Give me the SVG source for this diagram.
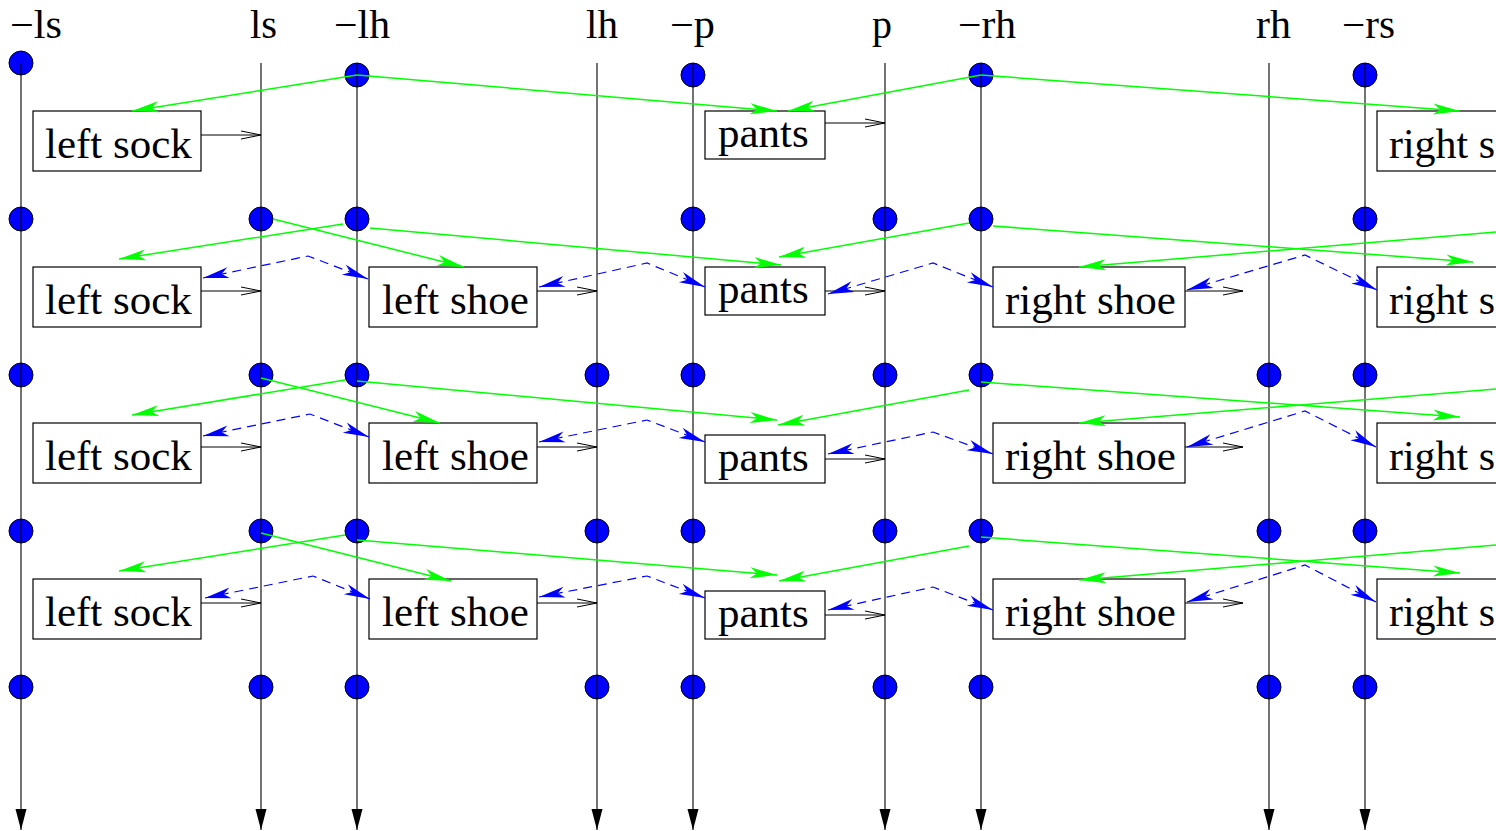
<svg xmlns="http://www.w3.org/2000/svg" width="1496" height="831" viewBox="0 0 1496 831">
  <style>
    .lbl { font-family: "Liberation Serif", "Times New Roman", serif; font-size: 40px; fill: #000; }
    .txt { font-family: "Liberation Serif", "Times New Roman", serif; font-size: 43px; fill: #000; }
    .box { fill: #fff; stroke: #000; stroke-width: 1.2; }
    .axis { stroke: #000; stroke-width: 1.1; fill: none; marker-end: url(#axisHead); }
    .dot { fill: #0000ff; stroke: #000; stroke-width: 1; }
    .g { stroke: #00ff00; stroke-width: 1.5; fill: none; marker-end: url(#greenHead); }
    .b { stroke: #0000ff; stroke-width: 1.2; fill: none; stroke-dasharray: 9 6; marker-start: url(#blueHead); marker-end: url(#blueHead); }
    .k { stroke: #000; stroke-width: 1; fill: none; marker-end: url(#openHead); }
  </style>
  <defs>
    <marker id="greenHead" viewBox="-29 -7 31 14" refX="0" refY="0" markerWidth="31" markerHeight="14" orient="auto" markerUnits="userSpaceOnUse">
      <path d="M0,0 L-27,-5.5 L-20,0 L-27,5.5 Z" fill="#00ff00"/>
    </marker>
    <marker id="blueHead" viewBox="-29 -7 31 14" refX="0" refY="0" markerWidth="31" markerHeight="14" orient="auto-start-reverse" markerUnits="userSpaceOnUse">
      <path d="M0,0 L-26,-5.5 L-19,0 L-26,5.5 Z" fill="#0000ff"/>
    </marker>
    <marker id="openHead" viewBox="-22 -6 24 12" refX="0" refY="0" markerWidth="24" markerHeight="12" orient="auto" markerUnits="userSpaceOnUse">
      <path d="M-20,-4 L0,0 L-20,4" fill="none" stroke="#000" stroke-width="1"/>
    </marker>
    <marker id="axisHead" viewBox="-23 -7 24 14" refX="0" refY="0" markerWidth="24" markerHeight="14" orient="auto" markerUnits="userSpaceOnUse">
      <path d="M0,0 L-21,-5.5 L-21,5.5 Z" fill="#000"/>
    </marker>
  </defs>

  <rect width="1496" height="831" fill="#fff"/>

  <!-- column headings -->
  <g id="labels">
    <text class="lbl" x="10" y="38" textLength="52" lengthAdjust="spacingAndGlyphs">−ls</text>
    <text class="lbl" x="250" y="38" textLength="27" lengthAdjust="spacingAndGlyphs">ls</text>
    <text class="lbl" x="334" y="38" textLength="56" lengthAdjust="spacingAndGlyphs">−lh</text>
    <text class="lbl" x="586" y="38" textLength="32" lengthAdjust="spacingAndGlyphs">lh</text>
    <text class="lbl" x="670" y="38" textLength="45" lengthAdjust="spacingAndGlyphs">−p</text>
    <text class="lbl" x="872" y="38" textLength="20" lengthAdjust="spacingAndGlyphs">p</text>
    <text class="lbl" x="958" y="38" textLength="58" lengthAdjust="spacingAndGlyphs">−rh</text>
    <text class="lbl" x="1256" y="38" textLength="35" lengthAdjust="spacingAndGlyphs">rh</text>
    <text class="lbl" x="1342" y="38" textLength="53" lengthAdjust="spacingAndGlyphs">−rs</text>
  </g>

  <!-- state dots -->
  <g id="dots">
    <circle class="dot" cx="21" cy="63" r="12"/>
    <circle class="dot" cx="357" cy="75" r="12"/>
    <circle class="dot" cx="693" cy="75" r="12"/>
    <circle class="dot" cx="981" cy="75" r="12"/>
    <circle class="dot" cx="1365" cy="75" r="12"/>

    <circle class="dot" cx="21" cy="219" r="12"/>
    <circle class="dot" cx="261" cy="219" r="12"/>
    <circle class="dot" cx="357" cy="219" r="12"/>
    <circle class="dot" cx="693" cy="219" r="12"/>
    <circle class="dot" cx="885" cy="219" r="12"/>
    <circle class="dot" cx="981" cy="219" r="12"/>
    <circle class="dot" cx="1365" cy="219" r="12"/>

    <circle class="dot" cx="21" cy="375" r="12"/>
    <circle class="dot" cx="261" cy="375" r="12"/>
    <circle class="dot" cx="357" cy="375" r="12"/>
    <circle class="dot" cx="597" cy="375" r="12"/>
    <circle class="dot" cx="693" cy="375" r="12"/>
    <circle class="dot" cx="885" cy="375" r="12"/>
    <circle class="dot" cx="981" cy="375" r="12"/>
    <circle class="dot" cx="1269" cy="375" r="12"/>
    <circle class="dot" cx="1365" cy="375" r="12"/>

    <circle class="dot" cx="21" cy="531" r="12"/>
    <circle class="dot" cx="261" cy="531" r="12"/>
    <circle class="dot" cx="357" cy="531" r="12"/>
    <circle class="dot" cx="597" cy="531" r="12"/>
    <circle class="dot" cx="693" cy="531" r="12"/>
    <circle class="dot" cx="885" cy="531" r="12"/>
    <circle class="dot" cx="981" cy="531" r="12"/>
    <circle class="dot" cx="1269" cy="531" r="12"/>
    <circle class="dot" cx="1365" cy="531" r="12"/>

    <circle class="dot" cx="21" cy="687" r="12"/>
    <circle class="dot" cx="261" cy="687" r="12"/>
    <circle class="dot" cx="357" cy="687" r="12"/>
    <circle class="dot" cx="597" cy="687" r="12"/>
    <circle class="dot" cx="693" cy="687" r="12"/>
    <circle class="dot" cx="885" cy="687" r="12"/>
    <circle class="dot" cx="981" cy="687" r="12"/>
    <circle class="dot" cx="1269" cy="687" r="12"/>
    <circle class="dot" cx="1365" cy="687" r="12"/>
  </g>

  <!-- time lines, one per literal -->
  <g id="timelines">
    <path class="axis" d="M21,63 V830"/>
    <path class="axis" d="M261,63 V830"/>
    <path class="axis" d="M357,63 V830"/>
    <path class="axis" d="M597,63 V830"/>
    <path class="axis" d="M693,63 V830"/>
    <path class="axis" d="M885,63 V830"/>
    <path class="axis" d="M981,63 V830"/>
    <path class="axis" d="M1269,63 V830"/>
    <path class="axis" d="M1365,63 V830"/>
  </g>

  <!-- step 1 -->
  <g id="s1-left-sock"><rect class="box" x="33" y="111" width="168" height="60"/><text class="txt" x="45" y="158">left sock</text></g>
  <g id="s1-pants"><rect class="box" x="705" y="111" width="120" height="48"/><text class="txt" x="718" y="147">pants</text></g>
  <g id="s1-right-sock"><rect class="box" x="1377" y="111" width="200" height="60"/><text class="txt" x="1389" y="158" textLength="106" lengthAdjust="spacingAndGlyphs">right s</text></g>

  <!-- step 2 -->
  <g id="s2-left-sock"><rect class="box" x="33" y="267" width="168" height="60"/><text class="txt" x="45" y="314">left sock</text></g>
  <g id="s2-left-shoe"><rect class="box" x="369" y="267" width="168" height="60"/><text class="txt" x="382" y="314">left shoe</text></g>
  <g id="s2-pants"><rect class="box" x="705" y="267" width="120" height="48"/><text class="txt" x="718" y="303">pants</text></g>
  <g id="s2-right-shoe"><rect class="box" x="993" y="267" width="192" height="60"/><text class="txt" x="1005" y="314">right shoe</text></g>
  <g id="s2-right-sock"><rect class="box" x="1377" y="267" width="200" height="60"/><text class="txt" x="1389" y="314" textLength="106" lengthAdjust="spacingAndGlyphs">right s</text></g>

  <!-- step 3 -->
  <g id="s3-left-sock"><rect class="box" x="33" y="423" width="168" height="60"/><text class="txt" x="45" y="470">left sock</text></g>
  <g id="s3-left-shoe"><rect class="box" x="369" y="423" width="168" height="60"/><text class="txt" x="382" y="470">left shoe</text></g>
  <g id="s3-pants"><rect class="box" x="705" y="435" width="120" height="48"/><text class="txt" x="718" y="471">pants</text></g>
  <g id="s3-right-shoe"><rect class="box" x="993" y="423" width="192" height="60"/><text class="txt" x="1005" y="470">right shoe</text></g>
  <g id="s3-right-sock"><rect class="box" x="1377" y="423" width="200" height="60"/><text class="txt" x="1389" y="470" textLength="106" lengthAdjust="spacingAndGlyphs">right s</text></g>

  <!-- step 4 -->
  <g id="s4-left-sock"><rect class="box" x="33" y="579" width="168" height="60"/><text class="txt" x="45" y="626">left sock</text></g>
  <g id="s4-left-shoe"><rect class="box" x="369" y="579" width="168" height="60"/><text class="txt" x="382" y="626">left shoe</text></g>
  <g id="s4-pants"><rect class="box" x="705" y="591" width="120" height="48"/><text class="txt" x="718" y="627">pants</text></g>
  <g id="s4-right-shoe"><rect class="box" x="993" y="579" width="192" height="60"/><text class="txt" x="1005" y="626">right shoe</text></g>
  <g id="s4-right-sock"><rect class="box" x="1377" y="579" width="200" height="60"/><text class="txt" x="1389" y="626" textLength="106" lengthAdjust="spacingAndGlyphs">right s</text></g>

  <g id="connectors">
    <!-- box outputs -->
    <path class="k" d="M201,135 H261"/>
    <path class="k" d="M825,123 H885"/>

    <path class="k" d="M201,291 H261"/>
    <path class="k" d="M537,291 H597"/>
    <path class="k" d="M825,291 H885"/>
    <path class="k" d="M1185,291 H1243"/>

    <path class="k" d="M201,447 H261"/>
    <path class="k" d="M537,447 H597"/>
    <path class="k" d="M825,459 H885"/>
    <path class="k" d="M1185,447 H1243"/>

    <path class="k" d="M201,603 H261"/>
    <path class="k" d="M537,603 H597"/>
    <path class="k" d="M825,615 H885"/>
    <path class="k" d="M1185,603 H1243"/>

    <!-- enabling inputs -->
    <path class="g" d="M357,75 L132,111"/>
    <path class="g" d="M357,75 L777,111"/>
    <path class="g" d="M981,75 L788,111"/>
    <path class="g" d="M981,75 L1460,111"/>

    <path class="g" d="M343,224 L119,259"/>
    <path class="g" d="M273,219 L464,267"/>
    <path class="g" d="M370,228 L781,265"/>
    <path class="g" d="M969,223 L779,257"/>
    <path class="g" d="M993,226 L1473,262"/>
    <path class="g" d="M1496,232 L1079,267"/>

    <path class="g" d="M345,380 L132,415"/>
    <path class="g" d="M261,378 L440,423"/>
    <path class="g" d="M357,381 L777,420"/>
    <path class="g" d="M969,390 L778,425"/>
    <path class="g" d="M981,382 L1460,417"/>
    <path class="g" d="M1496,389 L1079,423"/>

    <path class="g" d="M345,535 L119,571"/>
    <path class="g" d="M261,533 L451,581"/>
    <path class="g" d="M357,540 L777,575"/>
    <path class="g" d="M969,546 L779,581"/>
    <path class="g" d="M981,537 L1460,573"/>
    <path class="g" d="M1496,545 L1079,580"/>

    <!-- mutual exclusion links -->
    <path class="b" d="M203,278 L308,256 L368,279"/>
    <path class="b" d="M539,287 L647,263 L705,287"/>
    <path class="b" d="M828,294 L933,263 L993,287"/>
    <path class="b" d="M1187,290 L1305,255 L1377,290"/>

    <path class="b" d="M203,436 L310,414 L369,437"/>
    <path class="b" d="M539,442 L647,420 L705,442"/>
    <path class="b" d="M828,454 L933,432 L993,454"/>
    <path class="b" d="M1187,447 L1305,411 L1376,447"/>

    <path class="b" d="M205,598 L313,576 L370,599"/>
    <path class="b" d="M539,597 L647,576 L705,598"/>
    <path class="b" d="M828,610 L933,587 L993,610"/>
    <path class="b" d="M1187,602 L1305,565 L1376,602"/>
  </g>
</svg>
